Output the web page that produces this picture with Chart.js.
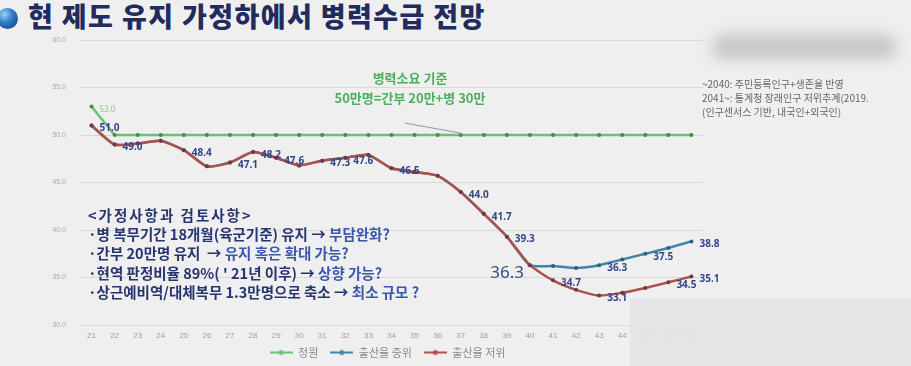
<!DOCTYPE html>
<html>
<head>
<meta charset="utf-8">
<script src="https://cdn.jsdelivr.net/npm/chart.js@4.4.1/dist/chart.umd.min.js"></script>
<style>
    body { margin: 0; width: 911px; height: 366px; background: #efefef; overflow: hidden; position: relative;
        font-family: "Noto Sans CJK KR", "Noto Sans", sans-serif; }
    #title { position: absolute; left: 0; top: 0; height: 32px; line-height: 32px; font-size: 27px; font-weight: 900;
        color: #212b5e; white-space: nowrap; letter-spacing: 1.4px; }
    #title .ball { display: inline-block; width: 21px; height: 21px; border-radius: 50%; margin-left: -3px; margin-right: 10px;
        vertical-align: -2px; background: radial-gradient(circle at 35% 30%, #9fd0f5 0%, #2f7fc8 40%, #0b3a78 100%); }
    #wrap { position: absolute; left: 0; top: 0; width: 776px; height: 366px; }
    .green { position: absolute; left: 300px; top: 68px; width: 220px; text-align: center; color: #4daf5c;
        font-size: 13px; font-weight: 700; line-height: 20px; }
    .memo { position: absolute; left: 88px; top: 205px; color: #26346f; font-size: 14.5px; font-weight: 700; line-height: 19.2px; white-space: nowrap; }
    .memo .h { letter-spacing: 2px; }
    .memo .q { color: #3b57ad; }
    .src { position: absolute; left: 702px; top: 77px; width: 209px; overflow: hidden; color: #666; font-size: 10px; line-height: 14px; white-space: nowrap; }
    .blur1 { position: absolute; left: 712px; top: 34px; width: 185px; height: 26px; background: #c9c9c9; filter: blur(7px); border-radius: 12px; }
    .blur2 { position: absolute; left: 630px; top: 298px; width: 300px; height: 80px; background: rgba(226,226,226,0.75);
        backdrop-filter: blur(5px); -webkit-backdrop-filter: blur(5px); }
</style>
</head>
<body>
<div id="title"><span class="ball"></span>현 제도 유지 가정하에서 병력수급 전망</div>
<div class="blur1"></div>
<div id="wrap"><canvas id="myChart" width="776" height="366"></canvas></div>
<div class="green">병력소요 기준<br>50만명=간부 20만+병 30만</div>
<div class="memo">
    <span class="h">&lt;가정사항과 검토사항&gt;</span><br>
    ·병 복무기간 18개월(육군기준) 유지 → <span class="q">부담완화?</span><br>
    ·간부 20만명 유지 &nbsp;→ <span class="q">유지 혹은 확대 가능?</span><br>
    ·현역 판정비율 89%( ' 21년 이후) → <span class="q">상향 가능?</span><br>
    ·상근예비역/대체복무 1.3만명으로 축소 → <span class="q">최소 규모 ?</span>
</div>
<div class="src">~2040: 주민등록인구+생존율 반영<br>2041~: 통계청 장래인구 저위추계(2019.<br>(인구센서스 기반, 내국인+외국인)</div>
<div class="blur2"></div>
<script>
// 연도 (21 ~ 47)
const years = ['21', '22', '23', '24', '25', '26', '27', '28', '29', '30', '31', '32', '33', '34',
    '35', '36', '37', '38', '39', '40', '41', '42', '43', '44', '45', '46', '47'];

// 정원 (만명)
const quota = [53.0, 50.0, 50.0, 50.0, 50.0, 50.0, 50.0, 50.0, 50.0, 50.0, 50.0, 50.0, 50.0, 50.0,
    50.0, 50.0, 50.0, 50.0, 50.0, 50.0, 50.0, 50.0, 50.0, 50.0, 50.0, 50.0, 50.0];

// 출산율 중위
const birthMid = [51.0, 49.0, 49.1, 49.4, 48.4, 46.7, 47.1, 48.2, 47.6, 46.8, 47.3, 47.6, 47.9, 46.5,
    46.1, 45.7, 44.0, 41.7, 39.3, 36.3, 36.2, 36.0, 36.3, 36.9, 37.5, 38.1, 38.8];

// 출산율 저위
const birthLow = [51.0, 49.0, 49.1, 49.4, 48.4, 46.7, 47.1, 48.2, 47.6, 46.8, 47.3, 47.6, 47.9, 46.5,
    46.1, 45.7, 44.0, 41.7, 39.3, 36.3, 34.7, 33.7, 33.1, 33.4, 33.9, 34.5, 35.1];

// y축 눈금
const yTicks = [30, 35, 40, 45, 50, 55, 60];

// 값 표시할 위치 (index)
const quotaLabelIdx = [0];
const midLabelIdx = [0, 1, 4, 6, 7, 8, 10, 11, 13, 16, 17, 18, 22, 24, 26];
const lowLabelIdx = [20, 22, 25, 26];
const bigLabelIdx = 19;

// 범례 아이콘 (선 + 점)
function legendIcon(color) {
    const c = document.createElement('canvas');
    c.width = 23;
    c.height = 8;
    const g = c.getContext('2d');
    g.strokeStyle = color;
    g.lineWidth = 2;
    g.beginPath();
    g.moveTo(0, 4);
    g.lineTo(23, 4);
    g.stroke();
    g.fillStyle = color;
    g.beginPath();
    g.arc(11.5, 4, 2.5, 0, Math.PI * 2);
    g.fill();
    return c;
}

// 레이아웃 보정: 플롯 하단 325px, 범례는 x축 라벨 아래 중앙
const layoutFix = {
    id: 'layoutFix',
    afterLayout(chart) {
        const area = chart.chartArea;
        const dy = 325 - area.bottom;
        if (dy !== 0) {
            area.bottom += dy;
            area.height = area.bottom - area.top;
            const ys = chart.scales.y;
            ys.bottom += dy;
            ys.height = ys.bottom - ys.top;
            ys.configure();
            const xs = chart.scales.x;
            xs.top += dy;
            xs.bottom += dy;
            xs.configure();
        }
        const lg = chart.legend;
        const h = lg.bottom - lg.top;
        lg.top = 335;
        lg.bottom = lg.top + h;
        lg.left += 36;
        lg.right += 36;
    }
};

// 값 라벨 + 기준선 지시선
const valueLabels = {
    id: 'valueLabels',
    afterDatasetsDraw(chart) {
        const ctx = chart.ctx;
        const xs = chart.scales.x;
        const ys = chart.scales.y;
        ctx.save();

        // 병력소요 기준 지시선
        ctx.strokeStyle = '#8a96b0';
        ctx.lineWidth = 1;
        ctx.beginPath();
        ctx.moveTo(xs.getPixelForValue(13.6), ys.getPixelForValue(51.25));
        ctx.lineTo(xs.getPixelForValue(16), ys.getPixelForValue(50.2));
        ctx.stroke();

        ctx.textAlign = 'left';
        ctx.textBaseline = 'middle';
        chart.data.datasets.forEach(function (ds, di) {
            const meta = chart.getDatasetMeta(di);
            ctx.fillStyle = ds.labelColor;
            ctx.font = ds.labelFont;
            ds.labelAt.forEach(function (i) {
                const pt = meta.data[i];
                ctx.fillText(ds.data[i].toFixed(1), pt.x + 8, pt.y + 3);
            });
        });

        // 40년 값은 크게
        const pt = chart.getDatasetMeta(1).data[bigLabelIdx];
        ctx.fillStyle = '#3a4c8c';
        ctx.font = '17px "Noto Sans", sans-serif';
        ctx.textAlign = 'right';
        ctx.fillText(birthMid[bigLabelIdx].toFixed(1), pt.x - 6, pt.y + 8);
        ctx.restore();
    }
};

document.addEventListener('DOMContentLoaded', function () {
    const data = {
        labels: years,
        datasets: [
            {
                label: '정원',
                data: quota,
                borderColor: '#6cc174',
                backgroundColor: '#3f8f4a',
                borderWidth: 2.5,
                pointRadius: 2,
                pointBorderWidth: 0,
                order: 0,
                labelAt: quotaLabelIdx,
                labelColor: '#8cc99a',
                labelFont: '8px "Noto Sans", sans-serif',
            },
            {
                label: '출산율 중위',
                data: birthMid,
                borderColor: '#3f86a6',
                backgroundColor: '#2c5f80',
                borderWidth: 2.5,
                pointRadius: 2,
                pointBorderWidth: 0,
                tension: 0.2,
                order: 2,
                labelAt: midLabelIdx,
                labelColor: '#34458a',
                labelFont: 'bold 10px "Noto Sans", sans-serif',
            },
            {
                label: '출산율 저위',
                data: birthLow,
                borderColor: '#b0504a',
                backgroundColor: '#6e3a44',
                borderWidth: 2.5,
                pointRadius: 2,
                pointBorderWidth: 0,
                tension: 0.2,
                order: 1,
                labelAt: lowLabelIdx,
                labelColor: '#34458a',
                labelFont: 'bold 10px "Noto Sans", sans-serif',
            },
        ],
    };

    const options = {
        responsive: false,
        animation: false,
        devicePixelRatio: 1,
        layout: { padding: { top: 40, right: 73, bottom: 0, left: 0 } },
        plugins: {
            tooltip: { enabled: false },
            legend: {
                position: 'bottom',
                labels: {
                    usePointStyle: true,
                    pointStyleWidth: 23,
                    boxHeight: 8,
                    padding: 12,
                    color: '#8a8a8a',
                    font: { size: 11, family: '"Noto Sans CJK KR", sans-serif' },
                    generateLabels: function (chart) {
                        const items = Chart.defaults.plugins.legend.labels.generateLabels(chart);
                        items.sort(function (a, b) { return a.datasetIndex - b.datasetIndex; });
                        items.forEach(function (it) {
                            it.pointStyle = legendIcon(chart.data.datasets[it.datasetIndex].borderColor);
                        });
                        return items;
                    },
                },
            },
        },
        scales: {
            x: {
                offset: true,
                grid: { display: false, drawTicks: false },
                border: { display: false },
                ticks: { color: '#a0a0a0', padding: 6, font: { size: 8 }, maxRotation: 0, autoSkip: false },
            },
            y: {
                min: 30,
                max: 60,
                afterBuildTicks: function (scale) {
                    scale.ticks = yTicks.map(function (v) { return { value: v }; });
                },
                afterFit: function (scale) { scale.width = 80; },
                grid: { color: '#d9d9d9', lineWidth: 1, drawTicks: false },
                border: { display: false },
                ticks: {
                    color: '#a8a8a8',
                    padding: 14,
                    font: { size: 7 },
                    callback: function (v) { return Number(v).toFixed(1); },
                },
            },
        },
    };

    const ctx = document.getElementById('myChart').getContext('2d');
    new Chart(ctx, { type: 'line', data: data, options: options, plugins: [valueLabels, layoutFix] });
});
</script>
</body>
</html>
